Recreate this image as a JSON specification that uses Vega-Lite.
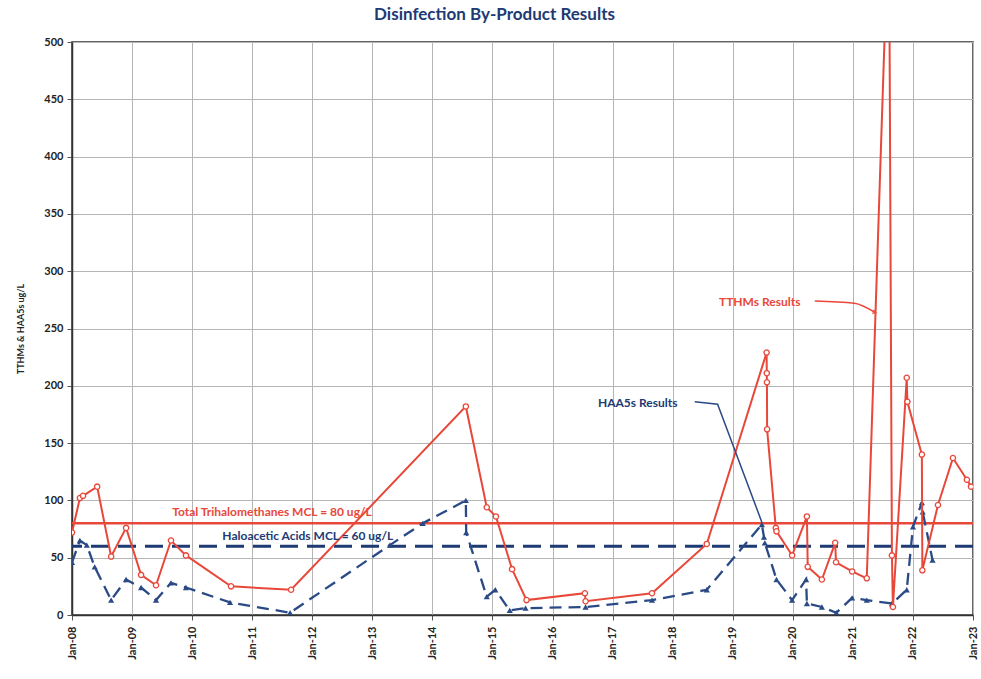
{
  "$schema": "https://vega.github.io/schema/vega-lite/v6.json",
  "width": 901,
  "height": 573,
  "autosize": {"type": "none"},
  "padding": {"left": 72, "top": 42, "right": 8, "bottom": 64},
  "background": "white",
  "config": {
    "font": "Lato",
    "view": {"stroke": "#333", "strokeWidth": 1.5},
    "axis": {"labelFont": "Lato", "titleFont": "Lato", "labelFontWeight": "bold", "labelColor": "#222", "gridColor": "#b5b5b5", "gridOpacity": 1, "gridWidth": 1, "domainColor": "#333", "tickColor": "#555"}
  },
  "title": {"text": "Disinfection By-Product Results", "font": "Lato", "fontSize": 17, "fontWeight": "bold", "color": "#1d3a73", "anchor": "middle", "dx": -28, "offset": 12},
  "datasets": {
    "tthm": [
      {"date": "2008-01-01", "v": 72},
      {"date": "2008-02-18", "v": 102},
      {"date": "2008-03-08", "v": 104},
      {"date": "2008-06-02", "v": 112},
      {"date": "2008-08-26", "v": 51},
      {"date": "2008-11-25", "v": 76},
      {"date": "2009-02-24", "v": 35},
      {"date": "2009-05-26", "v": 26},
      {"date": "2009-08-25", "v": 65},
      {"date": "2009-11-24", "v": 52},
      {"date": "2010-08-25", "v": 25},
      {"date": "2011-08-25", "v": 22},
      {"date": "2014-07-23", "v": 182},
      {"date": "2014-11-27", "v": 94},
      {"date": "2015-01-22", "v": 86},
      {"date": "2015-04-30", "v": 40},
      {"date": "2015-07-27", "v": 13},
      {"date": "2016-07-16", "v": 19},
      {"date": "2016-07-20", "v": 12},
      {"date": "2017-08-28", "v": 19},
      {"date": "2018-07-27", "v": 62},
      {"date": "2019-07-26", "v": 229},
      {"date": "2019-07-27", "v": 211},
      {"date": "2019-07-28", "v": 203},
      {"date": "2019-07-29", "v": 162},
      {"date": "2019-09-20", "v": 76},
      {"date": "2019-09-24", "v": 73},
      {"date": "2019-12-28", "v": 52},
      {"date": "2020-03-27", "v": 86},
      {"date": "2020-04-01", "v": 42},
      {"date": "2020-06-26", "v": 31},
      {"date": "2020-09-15", "v": 63},
      {"date": "2020-09-20", "v": 46},
      {"date": "2020-12-27", "v": 38},
      {"date": "2021-03-26", "v": 32},
      {"date": "2021-08-08", "v": 620},
      {"date": "2021-08-26", "v": 52},
      {"date": "2021-09-01", "v": 7},
      {"date": "2021-11-24", "v": 207},
      {"date": "2021-11-28", "v": 186},
      {"date": "2022-02-24", "v": 140},
      {"date": "2022-02-27", "v": 39},
      {"date": "2022-06-02", "v": 96},
      {"date": "2022-09-01", "v": 137},
      {"date": "2022-11-25", "v": 118},
      {"date": "2022-12-20", "v": 112}
    ],
    "haa": [
      {"date": "2008-01-01", "v": 46},
      {"date": "2008-02-18", "v": 65},
      {"date": "2008-03-31", "v": 61},
      {"date": "2008-05-18", "v": 42},
      {"date": "2008-08-26", "v": 13},
      {"date": "2008-11-25", "v": 31},
      {"date": "2009-02-24", "v": 24},
      {"date": "2009-05-26", "v": 13},
      {"date": "2009-08-25", "v": 28},
      {"date": "2009-11-24", "v": 24},
      {"date": "2010-08-19", "v": 11},
      {"date": "2011-08-19", "v": 2},
      {"date": "2013-04-17", "v": 61},
      {"date": "2013-11-03", "v": 80},
      {"date": "2014-07-23", "v": 100},
      {"date": "2014-07-25", "v": 72},
      {"date": "2014-11-27", "v": 16},
      {"date": "2015-01-18", "v": 22},
      {"date": "2015-04-16", "v": 4},
      {"date": "2015-07-21", "v": 6},
      {"date": "2016-07-20", "v": 7},
      {"date": "2017-08-28", "v": 13},
      {"date": "2018-07-27", "v": 22},
      {"date": "2019-06-27", "v": 79},
      {"date": "2019-07-10", "v": 68},
      {"date": "2019-07-15", "v": 63},
      {"date": "2019-09-24", "v": 31},
      {"date": "2019-12-28", "v": 13},
      {"date": "2020-03-22", "v": 31},
      {"date": "2020-03-27", "v": 10},
      {"date": "2020-06-26", "v": 7},
      {"date": "2020-09-22", "v": 2},
      {"date": "2020-12-27", "v": 15},
      {"date": "2021-03-26", "v": 13},
      {"date": "2021-08-26", "v": 10},
      {"date": "2021-11-24", "v": 22},
      {"date": "2022-01-01", "v": 77},
      {"date": "2022-02-24", "v": 98},
      {"date": "2022-03-01", "v": 90},
      {"date": "2022-04-30", "v": 48}
    ],
    "mcl": [
      {"series": "TTHM", "v": 80},
      {"series": "HAA", "v": 60}
    ],
    "labels": [
      {"date": "2011-05-01", "v": 90, "text": "Total Trihalomethanes MCL = 80 ug/L", "series": "TTHM"},
      {"date": "2011-12-05", "v": 69, "text": "Haloacetic Acids MCL = 60 ug/L", "series": "HAA"},
      {"date": "2019-06-14", "v": 273, "text": "TTHMs Results", "series": "TTHM"},
      {"date": "2017-06-02", "v": 185, "text": "HAA5s Results", "series": "HAA"}
    ],
    "arrowT": [
      {"date": "2020-05-14", "v": 274},
      {"date": "2021-01-10", "v": 272},
      {"date": "2021-05-15", "v": 264}
    ],
    "arrowH": [
      {"date": "2018-05-15", "v": 186},
      {"date": "2018-10-01", "v": 184},
      {"date": "2019-06-27", "v": 81}
    ]
  },
  "encoding": {
    "x": {
      "field": "date", "type": "temporal",
      "scale": {"type": "utc", "domain": ["2008-01-01", "2023-01-01"], "nice": false},
      "axis": {"title": null, "format": "%b-%y", "tickCount": {"interval": "year", "step": 1}, "labelAngle": 270, "labelFontSize": 11, "labelPadding": 6, "tickSize": 5, "grid": true, "domainWidth": 1.5, "labelFlush": false, "labelOverlap": false}
    },
    "y": {
      "field": "v", "type": "quantitative",
      "scale": {"domain": [0, 500], "nice": false},
      "axis": {"title": "TTHMs & HAA5s ug/L", "titleFontSize": 9, "titleFontWeight": "bold", "titleColor": "#222", "titlePadding": 18, "values": [0, 50, 100, 150, 200, 250, 300, 350, 400, 450, 500], "labelFontSize": 11, "labelPadding": 4, "tickSize": 5, "grid": true, "domainWidth": 1.5}
    }
  },
  "layer": [
    {
      "data": {"name": "mcl"},
      "transform": [{"filter": "datum.series == 'TTHM'"}],
      "mark": {"type": "rule", "color": "#e8483a", "strokeWidth": 2.5},
      "encoding": {"x": null}
    },
    {
      "data": {"name": "mcl"},
      "transform": [{"filter": "datum.series == 'HAA'"}],
      "mark": {"type": "rule", "color": "#1d3a73", "strokeWidth": 3, "strokeDash": [18, 9]},
      "encoding": {"x": null}
    },
    {
      "data": {"name": "haa"},
      "mark": {"type": "line", "color": "#2a4a85", "strokeWidth": 2.3, "strokeDash": [12, 7], "clip": true}
    },
    {
      "data": {"name": "haa"},
      "mark": {"type": "point", "shape": "triangle-up", "filled": true, "color": "#2a4a85", "size": 38, "opacity": 1, "clip": true}
    },
    {
      "data": {"name": "tthm"},
      "mark": {"type": "line", "color": "#e8483a", "strokeWidth": 2, "clip": true}
    },
    {
      "data": {"name": "tthm"},
      "mark": {"type": "point", "shape": "circle", "filled": true, "fill": "white", "stroke": "#e8483a", "strokeWidth": 1.3, "size": 28, "opacity": 1, "clip": true}
    },
    {
      "data": {"name": "arrowT"},
      "mark": {"type": "line", "color": "#e8483a", "strokeWidth": 1.5, "interpolate": "monotone"}
    },
    {
      "data": {"name": "arrowT"},
      "transform": [{"filter": "datum.v < 270"}],
      "mark": {"type": "point", "shape": "triangle-right", "filled": true, "color": "#e8483a", "size": 30, "angle": 20}
    },
    {
      "data": {"name": "arrowH"},
      "mark": {"type": "line", "color": "#2a4a85", "strokeWidth": 1.5}
    },
    {
      "data": {"name": "labels"},
      "transform": [{"filter": "datum.series == 'TTHM'"}],
      "mark": {"type": "text", "font": "Lato", "fontWeight": "bold", "fontSize": 12, "color": "#e8483a", "align": "center", "baseline": "middle"},
      "encoding": {"text": {"field": "text"}}
    },
    {
      "data": {"name": "labels"},
      "transform": [{"filter": "datum.series == 'HAA'"}],
      "mark": {"type": "text", "font": "Lato", "fontWeight": "bold", "fontSize": 12, "color": "#1d3a73", "align": "center", "baseline": "middle"},
      "encoding": {"text": {"field": "text"}}
    }
  ]
}
